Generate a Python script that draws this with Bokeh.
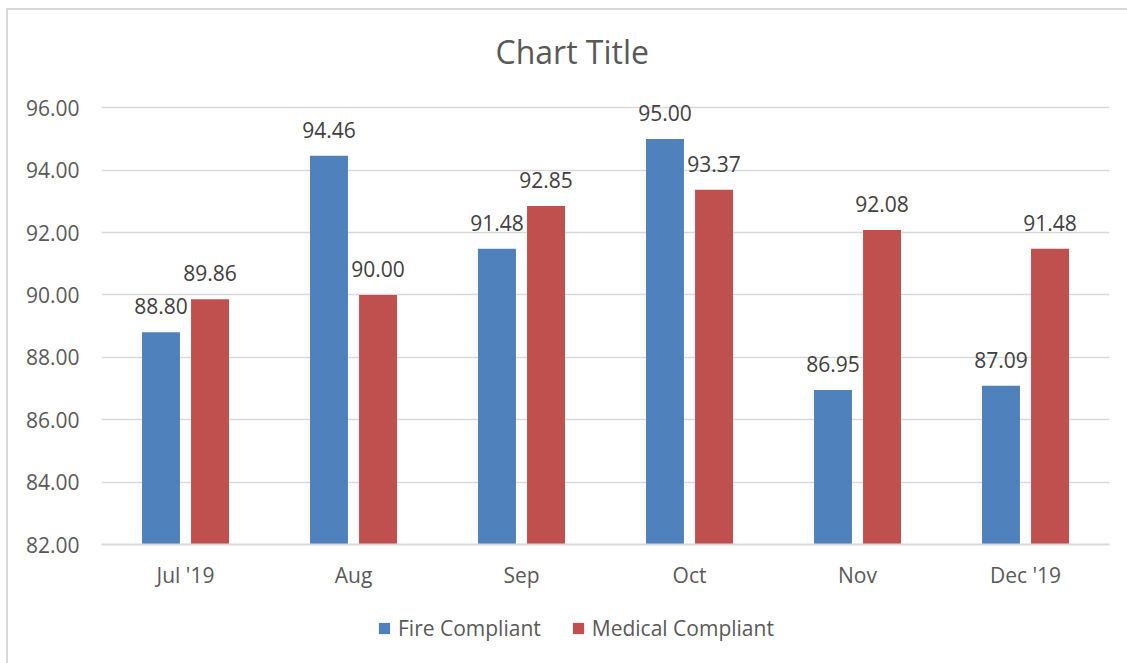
from bokeh.plotting import figure
from bokeh.layouts import column
from bokeh.models import (ColumnDataSource, Range1d, FixedTicker, NumeralTickFormatter,
                          Legend, LegendItem, Title)
from bokeh.transform import dodge
from bokeh.core.properties import value
from bokeh.embed import file_html
from bokeh.resources import INLINE

categories = ["Jul '19", "Aug", "Sep", "Oct", "Nov", "Dec '19"]
fire = [88.80, 94.46, 91.48, 95.00, 86.95, 87.09]
medical = [89.86, 90.00, 92.85, 93.37, 92.08, 91.48]
y_ticks = [82, 84, 86, 88, 90, 92, 94, 96]
series_names = ["Fire Compliant", "Medical Compliant"]

FONT = "Open Sans"
BLUE = "#4f81bd"
RED = "#c0504d"
GRID = "#d9d9d9"
TXT = "#595959"
FS = "21px"

src = ColumnDataSource(dict(
    cat=categories, fire=fire, medical=medical,
    fire_lbl=[f"{v:.2f}" for v in fire],
    med_lbl=[f"{v:.2f}" for v in medical],
))

# range reaches a little above the top tick so the highest data label is not clipped
p = figure(x_range=categories, y_range=Range1d(82, 97), width=1119, height=600,
           output_backend="svg", toolbar_location=None,
           min_border_left=93, min_border_right=18, min_border_top=66, min_border_bottom=66)
p.outline_line_color = None
p.background_fill_color = "white"
p.border_fill_color = "white"

p.add_layout(Title(text="Chart Title", align="left", offset=394, text_font=FONT,
                   text_font_size="32px", text_font_style="normal",
                   text_color=TXT, standoff=7), "above")

off = 0.146
bw = 0.226
p.vbar(x=dodge("cat", -off, range=p.x_range), top="fire", bottom=82, width=bw,
       source=src, fill_color=BLUE, line_color=None)
p.vbar(x=dodge("cat", off, range=p.x_range), top="medical", bottom=82, width=bw,
       source=src, fill_color=RED, line_color=None)

p.text(x=dodge("cat", -off, range=p.x_range), y="fire", text="fire_lbl", source=src,
       text_align="center", text_baseline="alphabetic", y_offset=-26,
       text_font=value(FONT), text_font_size=FS, text_color="#404040")
p.text(x=dodge("cat", off, range=p.x_range), y="medical", text="med_lbl", source=src,
       text_align="center", text_baseline="alphabetic", y_offset=-26,
       text_font=value(FONT), text_font_size=FS, text_color="#404040")

p.yaxis.ticker = FixedTicker(ticks=y_ticks)
p.yaxis.formatter = NumeralTickFormatter(format="0.00")
p.yaxis.axis_line_color = None
p.yaxis.major_tick_line_color = None
p.yaxis.minor_tick_line_color = None
p.yaxis.major_label_standoff = 16
p.yaxis.major_label_text_font = FONT
p.yaxis.major_label_text_font_size = FS
p.yaxis.major_label_text_color = TXT

p.xaxis.axis_line_color = GRID
p.xaxis.axis_line_width = 2
p.xaxis.major_tick_line_color = None
p.xaxis.minor_tick_line_color = None
p.xaxis.major_label_standoff = 10
p.xaxis.major_label_text_font = FONT
p.xaxis.major_label_text_font_size = FS
p.xaxis.major_label_text_color = TXT

p.xgrid.grid_line_color = None
p.ygrid.grid_line_color = GRID
p.ygrid.grid_line_width = 1.5
p.ygrid.ticker = FixedTicker(ticks=y_ticks)

# legend strip below the plot (its zero-width bars only supply the legend swatches)
q = figure(width=1119, height=53, output_backend="svg", toolbar_location=None,
           x_range=p.x_range, y_range=Range1d(0, 1),
           min_border=0, x_axis_location=None, y_axis_location=None)
q.outline_line_color = None
q.grid.grid_line_color = None
q.border_fill_color = "white"
lf = q.vbar(x="cat", top="fire", bottom=82, width=0, source=src,
            fill_color=BLUE, line_color=None)
lm = q.vbar(x="cat", top="medical", bottom=82, width=0, source=src,
            fill_color=RED, line_color=None)
legend = Legend(items=[LegendItem(label=series_names[0], renderers=[lf]),
                       LegendItem(label=series_names[1], renderers=[lm])],
                orientation="horizontal", location=(276, 21),
                label_text_font=FONT, label_text_font_size=FS, label_text_color=TXT,
                glyph_width=14, glyph_height=14, label_standoff=7, spacing=30,
                padding=0, margin=0, border_line_color=None, background_fill_alpha=0)
q.add_layout(legend)

layout = column(p, q, spacing=0)
layout.margin = (8, 0, 0, 6)
layout.styles = {"border-left": "2px solid #d9d9d9", "border-top": "2px solid #d9d9d9"}

open("out.html", "w").write(file_html(layout, INLINE))
